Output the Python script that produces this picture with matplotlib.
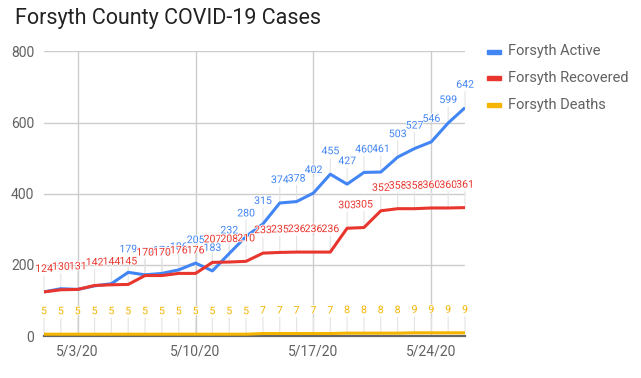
import numpy as np
import pandas as pd
import matplotlib
matplotlib.use("Agg")
import matplotlib.pyplot as plt
import matplotlib.patheffects as pe
from matplotlib.patches import Rectangle

plt.rcParams['font.family'] = ['Roboto', 'DejaVu Sans']

days = pd.to_datetime([
    "2020-05-01", "2020-05-02", "2020-05-03", "2020-05-04", "2020-05-05",
    "2020-05-06", "2020-05-07", "2020-05-08", "2020-05-09", "2020-05-10",
    "2020-05-11", "2020-05-12", "2020-05-13", "2020-05-14", "2020-05-15",
    "2020-05-16", "2020-05-17", "2020-05-18", "2020-05-19", "2020-05-20",
    "2020-05-21", "2020-05-22", "2020-05-23", "2020-05-24", "2020-05-25",
    "2020-05-26"])

active = [124, 133, 131, 141, 147, 179, 172, 176, 186, 205, 183, 232, 280,
          315, 374, 378, 402, 455, 427, 460, 461, 503, 527, 546, 599, 642]
recovered = [124, 130, 131, 142, 144, 145, 170, 170, 176, 176, 207, 208, 210,
             233, 235, 236, 236, 236, 303, 305, 352, 358, 358, 360, 360, 361]
deaths = [5, 5, 5, 5, 5, 5, 5, 5, 5, 5, 5, 5, 5,
          7, 7, 7, 7, 7, 8, 8, 8, 8, 9, 9, 9, 9]
# first few active labels are hidden behind the recovered ones in the original
active_first_label = 5

tick_days = pd.to_datetime(["2020-05-03", "2020-05-10", "2020-05-17", "2020-05-24"])
tick_names = ["5/3/20", "5/10/20", "5/17/20", "5/24/20"]
y_ticks = [0, 200, 400, 600, 800]

series = [
    ("Forsyth Active", active, "#4285F4"),
    ("Forsyth Recovered", recovered, "#E8362E"),
    ("Forsyth Deaths", deaths, "#F4B400"),
]

fig = plt.figure(figsize=(6.41, 3.78), dpi=100)
ax = fig.add_axes([44 / 641, 1 - 336 / 378, (465 - 44) / 641, (336 - 51.5) / 378])

ax.set_xlim(days[0], days[-1])
ax.set_ylim(0, 800)
ax.set_yticks(y_ticks)
ax.set_xticks(tick_days)
ax.set_xticklabels(tick_names)
ax.grid(True, color="#cccccc", lw=1.0)
ax.set_axisbelow(True)
for s in ["top", "right", "left"]:
    ax.spines[s].set_visible(False)
ax.spines["bottom"].set_color("#666666")
ax.spines["bottom"].set_linewidth(1.6)
ax.tick_params(length=0, colors="#616161", labelsize=10)
ax.tick_params(axis="y", pad=7)
ax.tick_params(axis="x", pad=6)

halo = [pe.withStroke(linewidth=1.2, foreground="white")]

for k, (name, vals, col) in enumerate(series):
    ax.plot(days, vals, color=col, lw=2.2, zorder=3 + k, solid_capstyle="butt")
    start = active_first_label if name == "Forsyth Active" else 0
    for d, v in zip(days[start:], vals[start:]):
        ax.annotate("", xy=(d, v), xytext=(0, 16), textcoords="offset pixels",
                    arrowprops=dict(arrowstyle="-", color="#e3e3e3", lw=0.8,
                                    shrinkA=0, shrinkB=0), zorder=1)
        ax.annotate(str(v), xy=(d, v), xytext=(0, 23), textcoords="offset pixels",
                    ha="center", va="center", fontsize=7.6, color=col,
                    path_effects=halo, zorder=10 + k)

fig.text(15 / 641, 1 - 18.5 / 378, "Forsyth County COVID-19 Cases",
         fontsize=15.5, color="#222222", va="center", ha="left")

for k, (name, vals, col) in enumerate(series):
    yc = [51.5, 78, 105][k]
    fig.patches.append(Rectangle((487 / 641, 1 - (yc + 2) / 378), 14 / 641, 4 / 378,
                                 transform=fig.transFigure, color=col))
    fig.text(508 / 641, 1 - yc / 378, name, fontsize=10.5, color="#616161",
             va="center", ha="left")

fig.savefig("out.png", dpi=100)
